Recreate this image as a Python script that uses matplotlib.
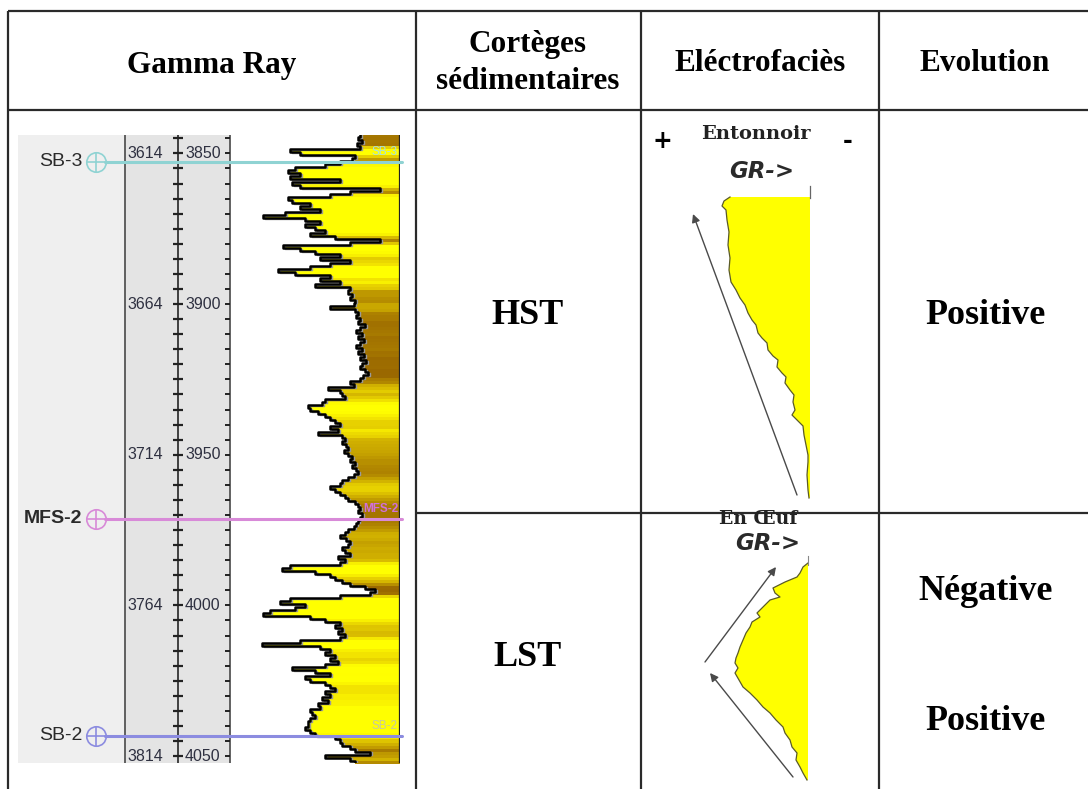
import numpy as np
import matplotlib
matplotlib.use("Agg")
import matplotlib.pyplot as plt
from matplotlib.colors import LinearSegmentedColormap, Normalize
from matplotlib.patches import Polygon
from matplotlib.transforms import blended_transform_factory

W, H = 1088, 789

# ---------------- data ----------------
HEADERS = ["Gamma Ray", "Cortèges\nsédimentaires", "Eléctrofaciès", "Evolution"]
TRACTS = ["HST", "LST"]
EVOLUTION = ["Positive", "Négative", "Positive"]

# Gamma-ray log, 1 m sampling starting at 3844 m (API units)
GR_TOP = 3844
GR_STEP = 1.0
GR = [
    130, 128, 132, 127, 130, 60,                          # 3844-3849
    70, 125, 122, 110, 95, 65, 58, 70, 60, 110,           # 3850
    62, 70, 150, 120, 100, 58, 62, 80, 70, 90,            # 3860
    55, 33, 75, 90, 75, 85, 95, 80, 105, 150,             # 3870
    120, 53, 70, 85, 110, 90, 120, 100, 80, 48,           # 3880
    65, 100, 90, 110, 85, 120, 118, 122, 120, 125,        # 3890
    124, 100, 125, 128, 126, 130, 128, 135, 130, 126,     # 3900
    132, 128, 134, 130, 126, 132, 128, 134, 130, 136,     # 3910
    132, 130, 135, 138, 133, 130, 120, 124, 98, 110,      # 3920
    112, 115, 95, 92, 78, 80, 88, 95, 100, 105,           # 3930
    110, 100, 108, 88, 112, 115, 112, 116, 118, 114,      # 3940
    118, 122, 120, 125, 122, 126, 128, 124, 118, 112,     # 3950
    110, 100, 105, 110, 115, 118, 125, 128, 130, 128,     # 3960
    132, 130, 128, 126, 124, 118, 115, 110, 116, 120,     # 3970
    118, 112, 115, 120, 108, 115, 110, 60, 52, 85,        # 3980
    100, 105, 112, 120, 135, 145, 140, 110, 60, 50,       # 3990
    75, 65, 40, 33, 80, 95, 110, 105, 112, 108,           # 4000
    115, 110, 70, 32, 90, 100, 95, 105, 100, 108,         # 4010
    95, 62, 85, 100, 75, 80, 95, 100, 105, 95,            # 4020
    100, 92, 98, 88, 90, 80, 82, 85, 80, 78,              # 4030
    78, 75, 80, 85, 105, 110, 112, 120, 125, 140,         # 4040
    95, 120, 125,                                         # 4050-4052
]
GR_MAX = 170

MD_LABELS = [3850, 3900, 3950, 4000, 4050]
TVD_LABELS = [3614, 3664, 3714, 3764, 3814]

HORIZONS = ["SB-3", "MFS-2", "SB-2"]
HORIZON_DEPTHS = [3852.8, 3971.3, 4043.3]
HORIZON_COLORS = ["#8fd3d3", "#d88ad8", "#8c8ce0"]
HORIZON_TEXT = ["#a8e0e0", "#d070d8", "#c8c8a0"]

DEPTH_MIN, DEPTH_MAX = 3843.9, 4052.3

# schematic electrofacies outlines (pixel space of the table)
FUNNEL_EDGE = [(810, 197), (730, 197), (724, 201), (722, 206), (726, 210), (727, 220),
               (729, 232), (728, 245), (730, 258), (729, 270), (731, 282), (736, 290),
               (740, 298), (745, 305), (748, 313), (752, 320), (756, 325), (758, 333),
               (762, 338), (767, 343), (768, 350), (773, 356), (778, 360), (777, 367),
               (782, 373), (786, 377), (785, 383), (790, 390), (794, 395), (793, 402),
               (795, 410), (792, 415), (797, 420), (803, 426), (804, 435), (806, 445),
               (808, 455), (808, 462), (807, 475), (808, 490), (809, 498)]
EGG_EDGE = [(808, 563), (803, 567), (800, 573), (797, 577), (785, 582), (773, 588),
            (775, 593), (780, 597), (770, 600), (764, 606), (757, 613), (760, 617),
            (752, 622), (750, 627), (746, 633), (743, 640), (740, 647), (738, 653),
            (736, 658), (735, 663), (738, 668), (735, 673), (739, 680), (743, 687),
            (750, 693), (757, 700), (763, 707), (770, 713), (776, 720), (783, 727),
            (785, 733), (790, 740), (792, 747), (797, 753), (796, 760), (800, 767),
            (803, 773), (807, 780)]

# ---------------- figure ----------------
fig = plt.figure(figsize=(W / 100, H / 100), dpi=100)


def px_axes(x0, y0, x1, y1, z):
    ax = fig.add_axes([x0 / W, 1 - y1 / H, (x1 - x0) / W, (y1 - y0) / H])
    ax.set_zorder(z)
    ax.set_axis_off()
    return ax


ax_bg = px_axes(0, 0, W, H, 0)
ax_bg.set_xlim(0, W)
ax_bg.set_ylim(H, 0)

SERIF = ["Liberation Serif", "DejaVu Serif"]
NARROW = ["Liberation Sans Narrow", "Liberation Sans", "DejaVu Sans"]

# table grid
line_kw = dict(color="#2a2a2a", lw=1.6, solid_capstyle="butt")
ax_bg.plot([8, W], [11, 11], **line_kw)
ax_bg.plot([8, W], [110, 110], **line_kw)
ax_bg.plot([416, W], [513, 513], **line_kw)
for xc in [8, 416, 641, 879]:
    ax_bg.plot([xc, xc], [11, H], **line_kw)

# headers
head_kw = dict(ha="center", va="center", family=SERIF, weight="bold", fontsize=22.5)
ax_bg.text(212, 65, HEADERS[0], **head_kw)
ax_bg.text(528, 63, HEADERS[1], linespacing=1.36, **head_kw)
ax_bg.text(760, 63, HEADERS[2], **head_kw)
ax_bg.text(985, 63, HEADERS[3], **head_kw)

# body text
body_kw = dict(ha="center", va="center", family=SERIF, weight="bold", fontsize=26)
ax_bg.text(528, 315, TRACTS[0], **body_kw)
ax_bg.text(528, 658, TRACTS[1], **body_kw)
ax_bg.text(986, 315, EVOLUTION[0], **body_kw)
ax_bg.text(986, 592, EVOLUTION[1], **body_kw)
ax_bg.text(986, 721, EVOLUTION[2], **body_kw)

# electrofacies sketches
yellow = "#ffff00"
edge_col = "#5a5a28"
ax_bg.add_patch(Polygon(FUNNEL_EDGE + [(810, 498)], closed=True, fc=yellow, ec="none"))
fx, fy = zip(*FUNNEL_EDGE)
ax_bg.plot(fx[1:], fy[1:], color=edge_col, lw=0.9)
ax_bg.plot([810, 810], [186, 198], color="#666", lw=0.9)
ax_bg.add_patch(Polygon(EGG_EDGE + [(808, 780)], closed=True, fc=yellow, ec="none"))
ex, ey = zip(*EGG_EDGE)
ax_bg.plot(ex, ey, color=edge_col, lw=0.9)
ax_bg.plot([808, 808], [556, 565], color="#888", lw=0.8)

arrow_kw = dict(arrowstyle="-|>", color="#4a4a4a", lw=1.0, mutation_scale=12,
                shrinkA=0, shrinkB=0)
ax_bg.annotate("", xy=(693, 214), xytext=(797, 495), arrowprops=arrow_kw)
ax_bg.annotate("", xy=(776, 567), xytext=(705, 662), arrowprops=arrow_kw)
ax_bg.annotate("", xy=(710, 673), xytext=(793, 777), arrowprops=arrow_kw)

ax_bg.text(662, 141, "+", ha="center", va="center", fontsize=17, weight="bold",
           family="DejaVu Sans")
ax_bg.text(848, 141, "-", ha="center", va="center", fontsize=17, weight="bold",
           family="DejaVu Sans")
ax_bg.text(756, 134, "Entonnoir", ha="center", va="center", family="DejaVu Serif",
           weight="bold", fontsize=14, color="#222")
ax_bg.text(762, 171, "GR->", ha="center", va="center", family="DejaVu Sans",
           weight="bold", style="italic", fontsize=16.5, color="#2a2a2a")
ax_bg.text(758, 519, "En Œuf", ha="center", va="center", family="DejaVu Serif",
           weight="bold", fontsize=13.5, color="#222")
ax_bg.text(768, 543, "GR->", ha="center", va="center", family="DejaVu Sans",
           weight="bold", style="italic", fontsize=16.5, color="#2a2a2a")

# ---------------- gamma-ray panel ----------------
ax_panel = px_axes(18, 135, 400, 763, 1)
ax_panel.set_xlim(18, 400)
ax_panel.set_ylim(DEPTH_MAX, DEPTH_MIN)
ax_panel.axvspan(18, 125, color="#efefef", lw=0)
ax_panel.axvspan(125, 230, color="#e4e4e4", lw=0)
ax_panel.axvspan(230, 400, color="white", lw=0)
for xv, c in [(125, "#555555"), (178, "#333333"), (230, "#555555")]:
    ax_panel.axvline(xv, color=c, lw=1.3)

tick_depths = np.arange(3845, 4051, 5)
ax_panel.hlines(tick_depths, 173, 183, color="#222", lw=1.6)
ax_panel.hlines(tick_depths, 225, 230, color="#222", lw=1.4)
for md, tvd in zip(MD_LABELS, TVD_LABELS):
    ax_panel.text(127, md, str(tvd), ha="left", va="center", family=NARROW,
                  fontsize=11.5, color="#2e3040")
    ax_panel.text(185, md, str(md), ha="left", va="center", family=NARROW,
                  fontsize=11.5, color="#2e3040")

# gamma-ray track
ax_gr = px_axes(230, 135, 400, 763, 2)
ax_gr.set_xlim(0, GR_MAX)
ax_gr.set_ylim(DEPTH_MAX, DEPTH_MIN)
ax_gr.patch.set_visible(False)

gr = np.asarray(GR, dtype=float)
depth = GR_TOP + GR_STEP * np.arange(len(gr))
pad = np.pad(gr, 1, mode="edge")
gr_smooth = np.convolve(pad, np.ones(3) / 3, mode="valid")

cmap = LinearSegmentedColormap.from_list(
    "gr_fill", ["#ffff00", "#f6ea00", "#dcc000", "#b89000", "#9a6800"])
norm = Normalize(vmin=86, vmax=134)

tops = depth - GR_STEP / 2
bots = depth + GR_STEP / 2
for g, gs, t, b in zip(gr, gr_smooth, tops, bots):
    ax_gr.fill_betweenx([t, b], g, GR_MAX, color=cmap(norm(gs)), lw=0)

# stepped curve
ys = np.column_stack([tops, bots]).ravel()
xs = np.repeat(gr, 2)
ax_gr.plot(xs + 2, ys + 0.3, color="#9a9a9a", lw=1.0, zorder=3)
ax_gr.plot(xs, ys, color="black", lw=1.8, zorder=4)
ax_gr.axvline(GR_MAX, color="#222", lw=1.6, zorder=5)

# horizons on top of everything
ax_top = px_axes(0, 0, W, H, 3)
ax_top.set_xlim(0, W)
ax_top.set_ylim(H, 0)
ax_top.patch.set_visible(False)
trans = blended_transform_factory(ax_top.transData, ax_panel.transData)
for name, d, c, tc in zip(HORIZONS, HORIZON_DEPTHS, HORIZON_COLORS, HORIZON_TEXT):
    ax_top.plot([105, 402], [d, d], color=c, lw=2.2, transform=trans,
                solid_capstyle="round")
    ax_top.plot([96], [d], marker="o", ms=14, mfc="none", mec=c, mew=1.2,
                transform=trans)
    ax_top.plot([96], [d], marker="+", ms=14, mec=c, mew=1.2, transform=trans)
    bold = "bold" if name.startswith("MFS") else "normal"
    ax_top.text(82, d, name, ha="right", va="center", family=NARROW, fontsize=14,
                weight=bold, color="#2a2a2a", transform=trans)
    ax_top.text(398, d - 1.2, name, ha="right", va="bottom", family=NARROW,
                fontsize=8.5, weight=bold, color=tc, transform=trans)

fig.savefig("out.png", dpi=100, facecolor="white")
